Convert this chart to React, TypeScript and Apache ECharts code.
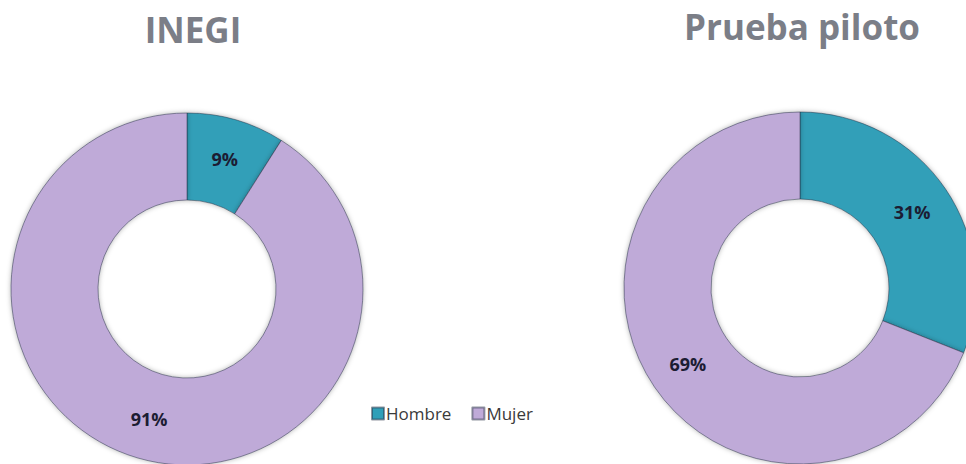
import React, { useEffect, useRef } from "react";
import * as echarts from "echarts";

const categories = ["Hombre", "Mujer"];
const inegiValues = [9, 91];
const pilotoValues = [31, 69];
const chartTitles = ["INEGI", "Prueba piloto"];
const colors = ["#309fb8", "#bfaad8"];

export default function App() {
  const ref = useRef<HTMLDivElement>(null);
  useEffect(() => {
    document.body.style.margin = "0";
    const chart = echarts.init(ref.current!, null, { renderer: "svg" });
    const makeData = (vals: number[]) =>
      categories.map((c, i) => ({ name: c, value: vals[i] }));
    const pieBase = {
      type: "pie",
      radius: [89, 176],
      startAngle: 90,
      clockwise: true,
      avoidLabelOverlap: false,
      label: {
        show: true,
        position: "inside",
        formatter: "{c}%",
        color: "#1c1c33",
        fontFamily: "Open Sans",
        fontWeight: "bold",
        fontSize: 18,
      },
      labelLine: { show: false },
      itemStyle: {
        borderColor: "rgba(40,50,70,0.5)",
        borderWidth: 1,
        shadowColor: "rgba(0,0,0,0.3)",
        shadowBlur: 5,
      },
      emphasis: { disabled: true },
    };
    const titleStyle = { fontFamily: "Open Sans", fontWeight: "bold", fontSize: 35, color: "#7b7e87" };
    chart.setOption({
      animation: false,
      backgroundColor: "#ffffff",
      color: colors,
      title: [
        { text: chartTitles[0], left: 188, top: 7, textAlign: "center", textStyle: titleStyle },
        { text: chartTitles[1], left: 797, top: 4, textAlign: "center", textStyle: titleStyle },
      ],
      legend: {
        data: categories,
        left: 366,
        top: 400,
        itemWidth: 12,
        itemHeight: 12,
        itemGap: 20,
        icon: "rect",
        textStyle: { fontFamily: "Open Sans", fontSize: 17, color: "#3a3a3a", padding: [0, 0, 0, -3] },
      },
      series: [
        { ...pieBase, name: chartTitles[0], center: [187, 289], data: makeData(inegiValues) },
        { ...pieBase, name: chartTitles[1], center: [800, 288], data: makeData(pilotoValues) },
      ],
    });
    return () => chart.dispose();
  }, []);
  return <div ref={ref} style={{ width: 966, height: 464 }} />;
}
